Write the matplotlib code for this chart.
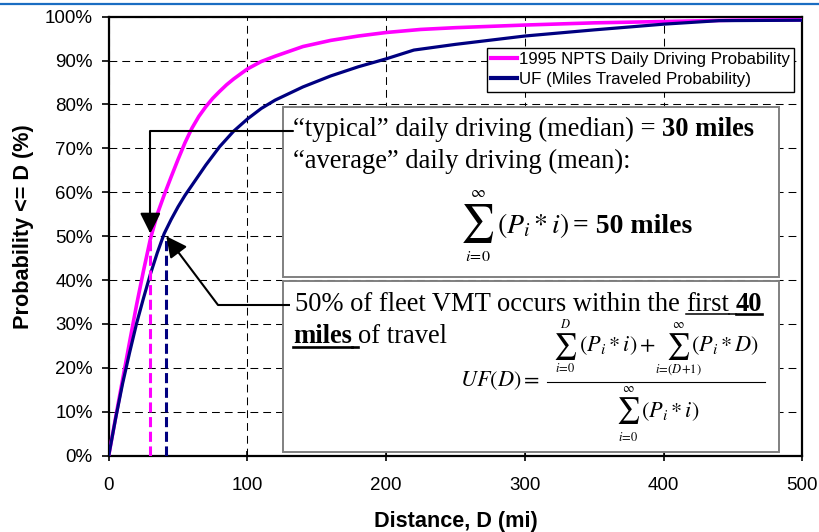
import matplotlib
matplotlib.use("Agg")
import matplotlib.pyplot as plt
from matplotlib.lines import Line2D
from matplotlib.patches import Rectangle

# ---------------- data ----------------
npts_distance = [0, 5, 10, 15, 20, 25, 30, 35, 40, 45, 50, 55, 60, 65, 70, 75, 80, 85,
                 90, 100, 110, 120, 140, 160, 180, 200, 225, 250, 300, 350, 400, 450, 500]
npts_prob = [0, 8.7, 17.3, 25.8, 34.2, 42.0, 49.3, 55.0, 59.4, 63.5, 67.5, 71.3, 74.6,
             77.3, 79.5, 81.4, 83.0, 84.5, 85.8, 88.1, 89.8, 91.0, 93.2, 94.6, 95.6,
             96.4, 97.1, 97.5, 98.1, 98.6, 98.9, 99.2, 99.3]
uf_distance = [0, 5, 10, 15, 20, 25, 30, 35, 40, 45, 50, 55, 60, 70, 80, 90, 100, 110,
               120, 140, 160, 180, 200, 220, 250, 300, 350, 400, 440, 500]
uf_prob = [0, 8.5, 16.4, 23.4, 30.0, 35.8, 41.3, 46.2, 50.6, 53.8, 56.7, 59.3, 61.6,
           66.2, 70.4, 73.9, 76.7, 79.1, 81.0, 84.0, 86.5, 88.6, 90.4, 92.4, 93.7,
           95.6, 97.0, 98.3, 99.1, 99.2]
median_miles = 30
uf_half_miles = 41.5
half_level = 50
x_ticks = [0, 100, 200, 300, 400, 500]
y_ticks = [0, 10, 20, 30, 40, 50, 60, 70, 80, 90, 100]
legend_labels = ["1995 NPTS Daily Driving Probability", "UF (Miles Traveled Probability)"]
x_label = "Distance, D (mi)"
y_label = "Probability <= D (%)"

MAGENTA = "#FF00FF"
NAVY = "#000080"

plt.rcParams["font.family"] = ["Liberation Sans", "DejaVu Sans"]
plt.rcParams["mathtext.fontset"] = "stix"

W, H = 820, 532
fig = plt.figure(figsize=(W / 100, H / 100), dpi=100)
L, R, T, B = 108.7, 802.3, 16.7, 455.7
ax = fig.add_axes([L / W, 1 - B / H, (R - L) / W, (B - T) / H])


def fx(px):
    return px / W


def fy(py):
    return 1 - py / H


def ax_xy(px, py):
    return ((px - L) / (R - L), (B - py) / (B - T))


def data_from_px(px, py):
    return ((px - L) / (R - L) * 500, (B - py) / (B - T) * 100)


# top blue rule
fig.add_artist(Line2D([0, 1], [fy(3.7), fy(3.7)], transform=fig.transFigure,
                      color="#1a6dc2", lw=1.6))

# axes
ax.set_xlim(0, 500)
ax.set_ylim(0, 100)
ax.set_xticks(x_ticks)
ax.set_yticks(y_ticks)
ax.set_xticklabels([str(v) for v in x_ticks])
ax.set_yticklabels([f"{v}%" for v in y_ticks])
ax.tick_params(axis="y", direction="out", length=5, width=1.2, labelsize=13.5, pad=6.5)
ax.tick_params(axis="x", direction="inout", length=7, width=1.2, labelsize=13.5, pad=12)
for s in ax.spines.values():
    s.set_linewidth(1.6)
    s.set_color("black")
ax.set_axisbelow(True)
ax.grid(True, ls=(0, (7.5, 4.8)), color="black", lw=0.75)

# white annotation boxes
bx0, by_top = ax_xy(283, 106.7)
bx1, by_bot = ax_xy(779, 277.3)
ax.add_patch(Rectangle((bx0, by_bot), bx1 - bx0, by_top - by_bot, transform=ax.transAxes,
                       facecolor="white", edgecolor="#808080", lw=1.4, zorder=2))
_, b2_top = ax_xy(283, 280.7)
_, b2_bot = ax_xy(779, 451.7)
ax.add_patch(Rectangle((bx0, b2_bot), bx1 - bx0, b2_top - b2_bot, transform=ax.transAxes,
                       facecolor="white", edgecolor="#808080", lw=1.4, zorder=2))

# curves
ax.plot(npts_distance, npts_prob, color=MAGENTA, lw=2.6, label=legend_labels[0], zorder=3)
ax.plot(uf_distance, uf_prob, color=NAVY, lw=2.3, label=legend_labels[1], zorder=3)

# dashed verticals
ax.plot([median_miles, median_miles], [0, half_level], color=MAGENTA, lw=2.2,
        ls=(0, (3.3, 1.5)), zorder=3)
ax.plot([uf_half_miles, uf_half_miles], [0, half_level], color=NAVY, lw=2.2,
        ls=(0, (3.3, 1.5)), zorder=3)

# arrows
ARROW = "-|>,head_length=0.9,head_width=0.45"
a1_start = data_from_px(293, 131)
ax.annotate("", xy=(median_miles, half_level + 0.6), xytext=a1_start,
            arrowprops=dict(arrowstyle=ARROW,
                            connectionstyle="angle,angleA=0,angleB=90,rad=0",
                            lw=1.5, color="black", shrinkA=0, shrinkB=0,
                            mutation_scale=14), zorder=4)
a2_start = data_from_px(290, 305)
a2_corner = data_from_px(218, 305)
ax.plot([a2_start[0], a2_corner[0]], [a2_start[1], a2_corner[1]], color="black",
        lw=1.5, zorder=4, solid_capstyle="butt")
ax.annotate("", xy=(uf_half_miles, half_level), xytext=a2_corner,
            arrowprops=dict(arrowstyle=ARROW, lw=1.5, color="black", shrinkA=0,
                            shrinkB=0, mutation_scale=14), zorder=4)

# legend
leg = ax.legend(loc="upper right", bbox_to_anchor=(fx(794), fy(47.7)),
                bbox_transform=fig.transFigure, fontsize=12.2, frameon=True,
                fancybox=False, edgecolor="black", framealpha=1, borderpad=0.25,
                handlelength=1.5, handletextpad=0.12, labelspacing=0.32,
                borderaxespad=0)
leg.get_frame().set_linewidth(1.0)
for ln in leg.get_lines():
    ln.set_linewidth(3.0)
leg.set_zorder(6)

# axis labels
fig.text(fx(455.5), fy(527), x_label, fontsize=15.6, fontweight="bold",
         ha="center", va="baseline")
fig.text(fx(29.3), fy(226.7), y_label, fontsize=15.6, fontweight="bold",
         ha="center", va="baseline", rotation=90, rotation_mode="anchor")

# rich text lines in boxes
renderer = fig.canvas.get_renderer()
SERIF = ["Liberation Serif", "DejaVu Serif"]
FS = 19.1


def width_of(s, weight, size=FS):
    t = fig.text(0, 0, s, fontsize=size, fontweight=weight, family=SERIF)
    w = t.get_window_extent(renderer).width
    t.remove()
    return w


space_w = {wt: width_of("a a", wt) - width_of("aa", wt) for wt in ("normal", "bold")}


def rich_line(px, py, parts):
    cur = px
    for text, weight, under in parts:
        if text == " ":
            w = space_w[weight]
        else:
            fig.text(fx(cur), fy(py), text, fontsize=FS, fontweight=weight,
                     family=SERIF, ha="left", va="baseline", zorder=5)
            w = width_of(text, weight)
        if under:
            lw = 1.9 if weight == "bold" else 1.1
            fig.add_artist(Line2D([fx(cur), fx(cur + w)], [fy(py + 3.5), fy(py + 3.5)],
                                  transform=fig.transFigure, color="black", lw=lw))
        cur += w


rich_line(293, 136, [("\u201ctypical\u201d daily driving (median) =", "normal", False),
                     (" ", "normal", False), ("30 miles", "bold", False)])
rich_line(293, 168, [("\u201caverage\u201d daily driving (mean):", "normal", False)])
rich_line(295, 310.7, [("50% of fleet VMT occurs within the", "normal", False),
                       (" ", "normal", False), ("first", "normal", True),
                       (" ", "normal", True), ("40", "bold", True)])
rich_line(293, 343.3, [("miles", "bold", True), (" ", "bold", True),
                       ("of travel", "normal", False)])


# formulas, built from pieces so the summation signs are display-sized
def mtext(px, py, s, size, ha="left", va="baseline", **kw):
    fig.text(fx(px), fy(py), s, fontsize=size, ha=ha, va=va, **kw)


def big_sum(cx, cy, size, upper, lower, lim_size, up_y, low_y):
    mtext(cx, cy, r"$\sum$", size, ha="center", va="center")
    mtext(cx, up_y, upper, lim_size, ha="center", va="center")
    mtext(cx, low_y, lower, lim_size, ha="center", va="center")


# mean formula
big_sum(477.5, 224, 27, r"$\infty$", r"$i\!=\!0$", 11.5, 193, 257)
mtext(497, 233, r"$(P_i * i)$", 20)
fig.text(fx(573), fy(233), "= 50 miles", fontsize=20, fontweight="bold",
         family=SERIF, ha="left", va="baseline")

# UF(D) formula
mtext(460, 386, r"$UF(D) =$", 16)
fig.add_artist(Line2D([fx(547), fx(765)], [fy(381.7), fy(381.7)],
                      transform=fig.transFigure, color="black", lw=0.8))
big_sum(565.5, 346, 18.5, r"$D$", r"$i\!=\!0$", 9, 324, 369)
mtext(579, 351, r"$(P_i * i) +$", 16)
big_sum(678.5, 346, 18.5, r"$\infty$", r"$i\!=\!(D\!+\!1)$", 9, 324.5, 369.5)
mtext(691, 351, r"$(P_i * D)$", 16)
big_sum(628.5, 410.5, 18.5, r"$\infty$", r"$i\!=\!0$", 9, 389.5, 437.5)
mtext(641, 417, r"$(P_i * i)$", 16)

fig.savefig("out.png", dpi=100, facecolor="white")
